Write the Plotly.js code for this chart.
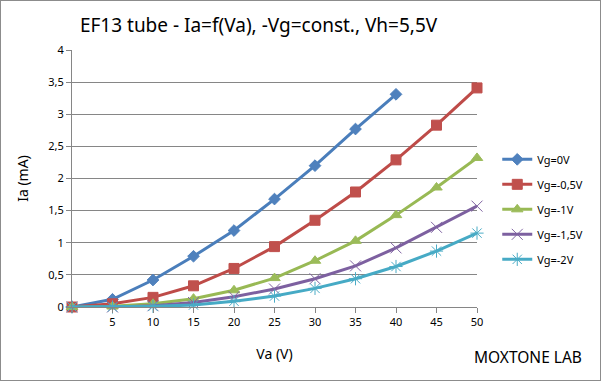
<!DOCTYPE html>
<html><head><meta charset="utf-8">
<script src="https://cdn.plot.ly/plotly-3.0.1.min.js"></script>
<style>html,body{margin:0;padding:0;background:#fff}#c{width:599px;height:379px;border:1px solid #8c8c8c}</style>
</head><body><div id="c"></div>
<script>
const va = [0,5,10,15,20,25,30,35,40,45,50];
const xTickVals = [0,5,10,15,20,25,30,35,40,45,50];
const xTickText = ['', '5','10','15','20','25','30','35','40','45','50'];
const ia_0 = [0,0.12,0.42,0.79,1.19,1.68,2.2,2.77,3.31];
const ia_05 = [0,0.05,0.15,0.33,0.6,0.94,1.35,1.79,2.29,2.83,3.41];
const ia_1 = [0,0.01,0.05,0.13,0.26,0.45,0.72,1.03,1.43,1.86,2.32];
const ia_15 = [0,0,0.02,0.07,0.16,0.28,0.44,0.64,0.92,1.24,1.57];
const ia_2 = [0,0,0.01,0.03,0.09,0.17,0.29,0.44,0.63,0.87,1.15];
const names = ['Vg=0V','Vg=-0,5V','Vg=-1V','Vg=-1,5V','Vg=-2V'];
const series = [ia_0, ia_05, ia_1, ia_15, ia_2];
const lineColors = ['#4A7EBB','#BE4B48','#98B954','#7D60A0','#46AAC5'];
const markerColors = ['#4F81BD','#C0504D','#9BBB59','#8064A2','#4BACC6'];
const symbols = ['diamond','square','triangle-up','x-thin-open','asterisk-open'];
const sizes = [9,10,10,11,11];
const traces = series.map((s,i)=>({
  x: va.slice(0,s.length), y: s, name: names[i], type:'scatter', mode:'lines+markers',
  legendgroup: 'g'+i,
  line:{color:lineColors[i], width:3},
  marker:{symbol:symbols[i], size:sizes[i], color:markerColors[i], line:{color:markerColors[i], width:1}},
  cliponaxis:false
}));
const font = 'Noto Sans, DejaVu Sans, sans-serif';
const layout = {
  width:599, height:379,
  margin:{l:71,r:117,t:49,b:73},
  paper_bgcolor:'#fff', plot_bgcolor:'#fff',
  separators:', ',
  font:{family:font, size:11, color:'#000'},
  title:{text:'EF13 tube - Ia=f(Va), -Vg=const., Vh=5,5V', font:{family:font, size:19, color:'#000'}, x:0.43, xanchor:'center', y:0.935, yanchor:'middle'},
  xaxis:{range:[0,50], tickvals:xTickVals, ticktext:xTickText, ticks:'outside', ticklen:5, tickcolor:'#868686',
    showline:true, linecolor:'#868686', linewidth:1, showgrid:false, zeroline:false,
    title:{text:'Va (V)', font:{size:14}, standoff:20}},
  yaxis:{range:[0,4], dtick:0.5, ticks:'outside', ticklen:5, tickcolor:'#868686',
    showline:true, linecolor:'#868686', linewidth:1, showgrid:true, gridcolor:'#868686', gridwidth:1, zeroline:false,
    title:{text:'Ia (mA)', font:{size:14}, standoff:16}},
  legend:{x:1.05, xanchor:'left', y:0.38, yanchor:'middle', font:{size:11}, tracegroupgap:6, traceorder:'grouped', bgcolor:'rgba(0,0,0,0)'},
  annotations:[{text:'MOXTONE LAB', xref:'paper', yref:'paper', x:0.988, xanchor:'left', y:-0.195, yanchor:'middle', showarrow:false, font:{size:15.5, color:'#000'}}]
};
Plotly.newPlot('c', traces, layout, {displayModeBar:false, staticPlot:true});
</script></body></html>
